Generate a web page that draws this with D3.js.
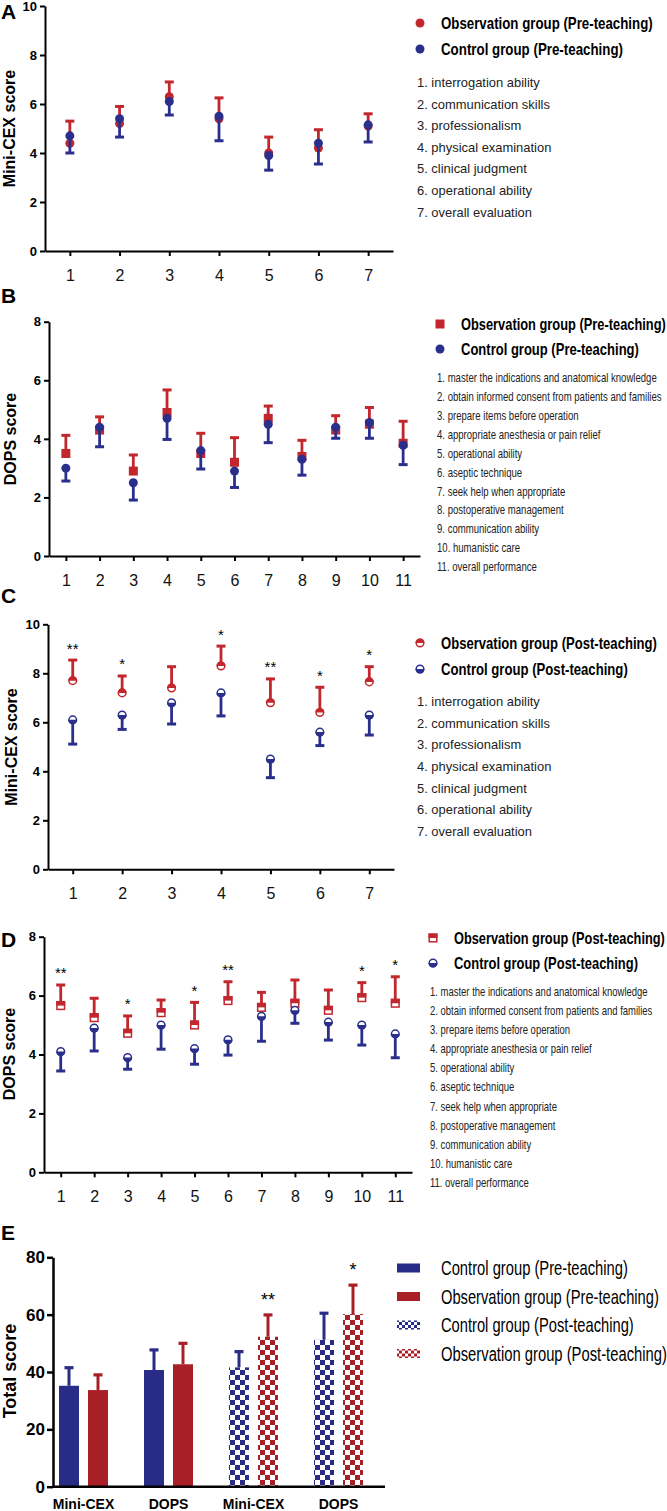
<!DOCTYPE html>
<html>
<head>
<meta charset="utf-8">
<script src="https://cdn.jsdelivr.net/npm/d3@7"></script>
<style>
  body { margin: 0; background: #fff; }
  svg { display: block; }
  text { font-family: "Liberation Sans", Arial, sans-serif; }
  .axis path, .axis line { stroke: #000; stroke-width: 2px; }
</style>
</head>
<body>
<svg id="fig" width="667" height="1511"></svg>
<script>
// ---- data ----
const miniItems = ["1", "2", "3", "4", "5", "6", "7"];
const dopsItems = ["1", "2", "3", "4", "5", "6", "7", "8", "9", "10", "11"];

const miniList = ["1. interrogation ability", "2. communication skills", "3. professionalism",
  "4. physical examination", "5. clinical judgment", "6. operational ability", "7. overall evaluation"];
const dopsList = ["1. master the indications and anatomical knowledge",
  "2. obtain informed consent from patients and families", "3. prepare items before operation",
  "4. appropriate anesthesia or pain relief", "5. operational ability", "6. aseptic technique",
  "7. seek help when appropriate", "8. postoperative management", "9. communication ability",
  "10. humanistic care", "11. overall performance"];

// A: Mini-CEX pre-teaching
const miniPreObs = [4.4, 5.2, 6.3, 5.4, 4.0, 4.2, 5.1];
const miniPreObsSD = [0.9, 0.7, 0.6, 0.85, 0.65, 0.75, 0.5];
const miniPreCtrl = [4.7, 5.4, 6.1, 5.5, 3.9, 4.4, 5.15];
const miniPreCtrlSD = [0.7, 0.75, 0.55, 1.0, 0.6, 0.85, 0.7];

// B: DOPS pre-teaching
const dopsPreObs = [3.5, 4.3, 2.9, 4.9, 3.5, 3.2, 4.7, 3.4, 4.3, 4.5, 3.85];
const dopsPreObsSD = [0.62, 0.45, 0.55, 0.77, 0.69, 0.84, 0.42, 0.55, 0.49, 0.57, 0.75];
const dopsPreCtrl = [3.0, 4.4, 2.5, 4.7, 3.6, 2.9, 4.5, 3.3, 4.4, 4.56, 3.78];
const dopsPreCtrlSD = [0.44, 0.67, 0.59, 0.72, 0.63, 0.56, 0.63, 0.54, 0.38, 0.54, 0.66];

// C: Mini-CEX post-teaching
const miniPostObs = [7.7, 7.2, 7.4, 8.3, 6.8, 6.4, 7.65];
const miniPostObsSD = [0.84, 0.69, 0.87, 0.81, 0.97, 1.03, 0.62];
const miniPostCtrl = [6.1, 6.3, 6.8, 7.2, 4.5, 5.6, 6.3];
const miniPostCtrlSD = [0.99, 0.59, 0.87, 0.94, 0.76, 0.55, 0.82];
const miniPostStars = ["**", "*", "", "*", "**", "*", "*"];

// D: DOPS post-teaching
const dopsPostObs = [5.66, 5.25, 4.72, 5.42, 5.0, 5.83, 5.6, 5.74, 5.5, 5.93, 5.74];
const dopsPostObsSD = [0.7, 0.66, 0.59, 0.43, 0.77, 0.64, 0.51, 0.79, 0.69, 0.51, 0.9];
const dopsPostCtrl = [4.1, 4.9, 3.9, 5.0, 4.2, 4.5, 5.3, 5.5, 5.1, 5.0, 4.7];
const dopsPostCtrlSD = [0.66, 0.78, 0.4, 0.82, 0.53, 0.52, 0.85, 0.44, 0.61, 0.68, 0.81];
const dopsPostStars = ["**", "", "*", "", "*", "**", "", "", "", "*", "*"];

// E: total scores
const totalGroups = ["Mini-CEX", "DOPS", "Mini-CEX", "DOPS"];
const totalCtrl = [35.2, 40.7, 41.6, 51.2];
const totalCtrlSD = [6.3, 7.0, 5.5, 9.3];
const totalObs = [33.7, 42.7, 52.3, 60.2];
const totalObsSD = [5.3, 7.3, 7.6, 10.1];
const totalStars = ["", "", "**", "*"];
const totalLegend = ["Control group (Pre-teaching)", "Observation group (Pre-teaching)",
  "Control group (Post-teaching)", "Observation group (Post-teaching)"];

// ---- drawing ----
const RED = "#c1272d", BLUE = "#2b2f8c";
const RED_E = "#a81f25", BLUE_E = "#282c86";
const svg = d3.select("#fig");
svg.append("rect").attr("width", 667).attr("height", 1511).attr("fill", "#fff");

const defs = svg.append("defs");
function checker(id, color, cell) {
  const p = defs.append("pattern").attr("id", id).attr("patternUnits", "userSpaceOnUse")
    .attr("width", cell * 2).attr("height", cell * 2);
  p.append("rect").attr("width", cell * 2).attr("height", cell * 2).attr("fill", "#fff");
  p.append("rect").attr("width", cell).attr("height", cell).attr("fill", color);
  p.append("rect").attr("x", cell).attr("y", cell).attr("width", cell).attr("height", cell).attr("fill", color);
}
checker("chkBlue", BLUE_E, 5);
checker("chkRed", RED_E, 5);
checker("chkBlueS", BLUE_E, 3);
checker("chkRedS", RED_E, 3);

function marker(sel, shape, half, color) {
  const r = 4.5;
  if (shape === "circle") {
    sel.append("circle").attr("r", r).attr("fill", color);
  } else if (shape === "square") {
    sel.append("rect").attr("x", -r).attr("y", -r).attr("width", 2 * r).attr("height", 2 * r).attr("fill", color);
  } else if (shape === "halfCircle") {
    sel.append("circle").attr("r", r - 0.7).attr("fill", "#fff").attr("stroke", color).attr("stroke-width", 1.5);
    sel.append("path").attr("fill", color)
      .attr("d", half === "top" ? `M${-r},0A${r},${r} 0 0 1 ${r},0Z` : `M${-r},0A${r},${r} 0 0 0 ${r},0Z`);
  } else if (shape === "halfSquare") {
    sel.append("rect").attr("x", -r + 0.7).attr("y", -r + 0.7).attr("width", 2 * r - 1.4).attr("height", 2 * r - 1.4)
      .attr("fill", "#fff").attr("stroke", color).attr("stroke-width", 1.5);
    sel.append("rect").attr("x", -r).attr("y", half === "top" ? -r : 0).attr("width", 2 * r).attr("height", r).attr("fill", color);
  }
}

function panelLetter(letter, y) {
  svg.append("text").attr("x", 1).attr("y", y).attr("font-size", 21).attr("font-weight", "bold").text(letter);
}

function yTitle(label, x, yMid, size) {
  svg.append("text").attr("transform", `translate(${x},${yMid}) rotate(-90)`)
    .attr("text-anchor", "middle").attr("font-size", size).attr("font-weight", "bold").text(label);
}

// text squeezed horizontally to a given width (narrow typeface look)
function squeezed(parent, label, width, fontSize, weight) {
  const g = parent.append("g");
  const t = g.append("text").attr("dy", "0.36em").attr("font-size", fontSize)
    .attr("font-weight", weight).text(label);
  const w = t.node().getComputedTextLength();
  g.attr("transform", `scale(${width / w},1)`);
  return g;
}

function legendRows(x, ys, labels, widths, shapes, fontSize, weight) {
  labels.forEach((lab, i) => {
    const g = svg.append("g").attr("transform", `translate(${x},${ys[i]})`);
    shapes[i](g);
    squeezed(g.append("g").attr("transform", "translate(21,0)"), lab, widths[i], fontSize, weight);
  });
}

function itemList(items, x, y0, step, firstWidth, fontSize) {
  const g = svg.append("g");
  const t = g.selectAll("text").data(items).join("text")
    .attr("x", 0).attr("y", (d, i) => i * step).attr("dy", "0.36em")
    .attr("font-size", fontSize).attr("fill", "#222").text(d => d);
  const w = t.node().getComputedTextLength();
  g.attr("transform", `translate(${x},${y0}) scale(${firstWidth / w},1)`);
}

function scatterPanel(c) {
  const x = d3.scalePoint().domain(c.items).range([c.x0, c.x1]).padding(0.5);
  const y = d3.scaleLinear().domain([0, c.ymax]).range([c.yb, c.yt]);

  svg.append("g").attr("class", "axis").attr("transform", `translate(${c.x0},0)`)
    .call(d3.axisLeft(y).tickValues(d3.range(0, c.ymax + 1, 2)).tickSize(5).tickSizeOuter(0).tickPadding(3))
    .call(g => g.selectAll("text").attr("font-size", 13).attr("font-weight", "bold")
      .style("font-family", '"Liberation Sans", Arial, sans-serif'));
  svg.append("g").attr("class", "axis").attr("transform", `translate(0,${c.yb})`)
    .call(d3.axisBottom(x).tickSize(5).tickSizeOuter(0).tickPadding(13.5))
    .call(g => g.selectAll("text").attr("font-size", 16).attr("fill", "#111")
      .style("font-family", '"Liberation Sans", Arial, sans-serif'));

  const series = [
    { mean: c.obs, sd: c.obsSD, dir: 1, color: RED, shape: c.obsShape, half: "top" },
    { mean: c.ctrl, sd: c.ctrlSD, dir: -1, color: BLUE, shape: c.ctrlShape, half: "bottom" }
  ];
  series.forEach(s => {
    const g = svg.append("g");
    s.mean.forEach((m, i) => {
      const cx = x(c.items[i]);
      const end = y(m + s.dir * s.sd[i]);
      g.append("line").attr("x1", cx).attr("x2", cx).attr("y1", y(m)).attr("y2", end)
        .attr("stroke", s.color).attr("stroke-width", 2.8);
      g.append("line").attr("x1", cx - 4.5).attr("x2", cx + 4.5).attr("y1", end).attr("y2", end)
        .attr("stroke", s.color).attr("stroke-width", 3);
    });
    s.mean.forEach((m, i) => {
      marker(g.append("g").attr("transform", `translate(${x(c.items[i])},${y(m)})`), s.shape, s.half, s.color);
    });
  });

  if (c.stars) {
    svg.append("g").selectAll("text").data(c.stars).join("text")
      .attr("x", (d, i) => x(c.items[i]))
      .attr("y", (d, i) => y(c.obs[i] + c.obsSD[i]) - 15 + 8.5)
      .attr("text-anchor", "middle").attr("font-size", 15).text(d => d);
  }
}

// ---- Panel A ----
panelLetter("A", 19);
scatterPanel({ items: miniItems, x0: 45, x1: 393, yt: 6, yb: 251, ymax: 10,
  obs: miniPreObs, obsSD: miniPreObsSD, ctrl: miniPreCtrl, ctrlSD: miniPreCtrlSD,
  obsShape: "circle", ctrlShape: "circle" });
yTitle("Mini-CEX score", 15, 128.5, 16);
legendRows(420, [23, 49], ["Observation group (Pre-teaching)", "Control group (Pre-teaching)"], [212, 182],
  [g => marker(g, "circle", null, RED), g => marker(g, "circle", null, BLUE)], 16, "bold");
itemList(miniList, 417, 82.3, 21.6, 123, 13);

// ---- Panel B ----
panelLetter("B", 303);
scatterPanel({ items: dopsItems, x0: 49, x1: 420, yt: 321.7, yb: 556, ymax: 8,
  obs: dopsPreObs, obsSD: dopsPreObsSD, ctrl: dopsPreCtrl, ctrlSD: dopsPreCtrlSD,
  obsShape: "square", ctrlShape: "circle" });
yTitle("DOPS score", 16, 439, 16);
legendRows(440, [324, 349], ["Observation group (Pre-teaching)", "Control group (Pre-teaching)"], [205, 178],
  [g => marker(g, "square", null, RED), g => marker(g, "circle", null, BLUE)], 16, "bold");
itemList(dopsList, 437, 377.7, 18.9, 220, 12.5);

// ---- Panel C ----
panelLetter("C", 603);
scatterPanel({ items: miniItems, x0: 48, x1: 394, yt: 624.3, yb: 869.3, ymax: 10,
  obs: miniPostObs, obsSD: miniPostObsSD, ctrl: miniPostCtrl, ctrlSD: miniPostCtrlSD,
  obsShape: "halfCircle", ctrlShape: "halfCircle", stars: miniPostStars });
yTitle("Mini-CEX score", 17, 747, 16);
legendRows(420, [643, 669], ["Observation group (Post-teaching)", "Control group (Post-teaching)"], [216, 187],
  [g => marker(g, "halfCircle", "top", RED), g => marker(g, "halfCircle", "bottom", BLUE)], 16, "bold");
itemList(miniList, 417, 701.7, 21.55, 123, 13);

// ---- Panel D ----
panelLetter("D", 947);
scatterPanel({ items: dopsItems, x0: 44, x1: 412, yt: 936.7, yb: 1172.3, ymax: 8,
  obs: dopsPostObs, obsSD: dopsPostObsSD, ctrl: dopsPostCtrl, ctrlSD: dopsPostCtrlSD,
  obsShape: "halfSquare", ctrlShape: "halfCircle", stars: dopsPostStars });
yTitle("DOPS score", 15, 1054, 16);
legendRows(433, [938, 963], ["Observation group (Post-teaching)", "Control group (Post-teaching)"], [211, 184],
  [g => marker(g, "halfSquare", "top", RED), g => marker(g, "halfCircle", "bottom", BLUE)], 16, "bold");
itemList(dopsList, 430, 991, 19.2, 218, 12.5);

// ---- Panel E ----
panelLetter("E", 1240);
(function () {
  const left = 53, right = 385, top = 1257.3, bottom = 1486.7;
  const idx = totalGroups.map((d, i) => i);
  const x0 = d3.scaleBand().domain(idx).range([left - 12, right - 4]).paddingInner(0);
  const x1 = d3.scaleBand().domain(["ctrl", "obs"]).range([18, 67]).paddingInner(0.31).paddingOuter(0);
  const y = d3.scaleLinear().domain([0, 80]).range([bottom, top]);

  const bars = [];
  idx.forEach(i => {
    const post = i >= 2;
    bars.push({ g: i, s: "ctrl", v: totalCtrl[i], sd: totalCtrlSD[i], color: BLUE_E,
      fill: post ? "url(#chkBlue)" : BLUE_E });
    bars.push({ g: i, s: "obs", v: totalObs[i], sd: totalObsSD[i], color: RED_E,
      fill: post ? "url(#chkRed)" : RED_E });
  });

  const g = svg.append("g");
  bars.forEach(b => {
    const bx = x0(b.g) + x1(b.s), bw = x1.bandwidth(), cx = bx + bw / 2;
    g.append("line").attr("x1", cx).attr("x2", cx).attr("y1", y(b.v)).attr("y2", y(b.v + b.sd))
      .attr("stroke", b.color).attr("stroke-width", 3);
    g.append("line").attr("x1", cx - 4.5).attr("x2", cx + 4.5).attr("y1", y(b.v + b.sd)).attr("y2", y(b.v + b.sd))
      .attr("stroke", b.color).attr("stroke-width", 3.2);
    g.append("rect").attr("x", bx).attr("y", y(b.v)).attr("width", bw).attr("height", bottom - y(b.v))
      .attr("fill", b.fill);
  });

  svg.append("g").selectAll("text").data(totalStars).join("text")
    .attr("x", (d, i) => x0(i) + x1("obs") + x1.bandwidth() / 2)
    .attr("y", (d, i) => y(totalObs[i] + totalObsSD[i]) - 19 + 10)
    .attr("text-anchor", "middle").attr("font-size", 18).text(d => d);

  svg.append("g").attr("class", "axis").attr("transform", `translate(${left},0)`)
    .call(d3.axisLeft(y).tickValues([0, 20, 40, 60, 80]).tickSize(6).tickSizeOuter(0).tickPadding(2))
    .call(a => a.selectAll("path, line").style("stroke-width", "2.5px"))
    .call(a => a.selectAll("text").attr("font-size", 17).attr("font-weight", "bold")
      .style("font-family", '"Liberation Sans", Arial, sans-serif'));
  const xa = svg.append("g").attr("class", "axis").attr("transform", `translate(0,${bottom})`)
    .call(d3.axisBottom(x0).tickSize(0).tickPadding(12.5).tickFormat(i => totalGroups[i]))
    .call(a => a.selectAll("text").attr("font-size", 14).attr("font-weight", "bold")
      .style("font-family", '"Liberation Sans", Arial, sans-serif'));
  xa.select(".domain").attr("d", `M${left},0H${right}`).style("stroke-width", "2.5px");

  yTitle("Total score", 16, 1371, 18);

  const swatch = fill => g2 => g2.append("rect").attr("x", -23).attr("y", -4.5).attr("width", 23).attr("height", 9).attr("fill", fill);
  legendRows(420, [1268, 1296.5, 1325, 1353.5], totalLegend, [187, 218, 193, 226],
    [swatch(BLUE_E), swatch(RED_E), swatch("url(#chkBlueS)"), swatch("url(#chkRedS)")], 20, "normal");
})();
</script>
</body>
</html>
